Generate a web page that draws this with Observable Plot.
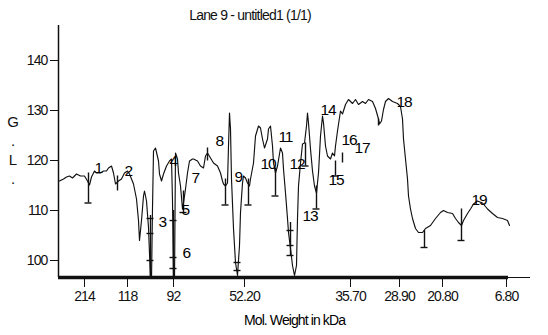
<!DOCTYPE html>
<html>
<head>
<meta charset="utf-8">
<script src="https://cdn.jsdelivr.net/npm/d3@7"></script>
<script src="https://cdn.jsdelivr.net/npm/@observablehq/plot@0.6"></script>
<style>
  body { margin: 0; background: #fff; font-family: "Liberation Sans", Arial, sans-serif; }
  #wrap { position: relative; width: 548px; height: 335px; }
  #title { height: 22px; width: 500px; text-align: center; font-size: 14px; letter-spacing: -0.8px; line-height: 16px; padding-top: 7px; box-sizing: border-box; color: #111; }
  #ylab { position: absolute; left: 7px; top: 112px; font-size: 15px; line-height: 19px; color: #111; text-align: center; width: 12px; }
  svg { display: block; }
  svg text { letter-spacing: -0.9px; }
  svg .peak text { letter-spacing: -1.2px; }
</style>
</head>
<body>
<div id="wrap">
  <div id="title">Lane 9 - untitled1 (1/1)</div>
  <div id="ylab">G<br>.<br>L<br>.</div>
  <div id="chart"></div>
</div>
<script>
// Densitometry trace: lane position and grey level
const tracePos = [1,5,8,11,14,18,22,26,29,31,33,36,38,42,45,48,50,53,55,57,60,63,66,69,71,75,78,80,81,83,85,86,88,90,91,92,93,94,95,97,100,101,103,105,108,111,113,114,115,116,117,119,120,122,124,125,127,129,131,134,135,139,142,145,147,149,152,155,159,162,164,165,167,169,170,171,172,173,175,177,179,181,182,184,185,187,189,191,192,195,197,200,202,204,206,209,210,212,214,215,217,219,222,224,225,227,229,230,232,234,236,238,239,240,242,244,246,248,249,250,252,254,256,258,260,262,264,265,267,269,272,274,276,277,279,282,284,287,290,294,297,300,304,307,310,314,317,320,321,323,325,327,330,334,339,342,344,345,347,349,350,352,354,357,360,364,367,372,377,382,385,389,394,397,400,403,405,409,412,415,419,424,429,434,439,444,449,451];
const traceVal = [115.9,116.3,116.7,116.9,116.5,117.3,116.9,116.9,115.9,115.1,116.7,117.9,117.5,117.5,117.9,117.9,118.5,118.9,117.5,115.3,115.9,116.3,117.5,117.9,117.3,115.3,112.3,108.0,104.0,108.0,112.9,113.9,111.9,106.6,101.4,96.0,96.0,110.5,121.9,122.5,119.9,117.3,115.9,117.3,118.9,119.9,120.3,111.9,96.0,96.0,121.5,120.3,117.5,114.9,110.3,111.5,114.3,117.5,119.9,120.3,120.3,119.9,118.9,118.5,120.9,121.5,120.5,119.5,118.9,117.5,115.9,115.3,114.9,115.5,122.9,129.5,126.3,116.3,106.4,99.6,97.0,103.0,109.6,115.5,116.9,116.5,115.5,114.9,116.3,119.5,124.9,126.9,126.5,124.3,122.5,124.3,126.3,126.9,122.9,119.5,117.5,118.9,122.5,121.5,118.3,113.5,108.4,105.6,102.4,99.0,97.0,99.0,108.4,114.9,119.5,123.3,123.5,126.9,129.5,127.5,122.3,117.9,114.9,113.5,117.5,124.9,128.9,127.5,122.9,120.9,120.3,121.5,120.9,122.9,125.9,129.9,129.3,131.2,132.2,131.4,132.2,131.2,131.8,131.4,132.2,131.8,130.4,128.3,127.3,127.9,130.2,131.8,132.4,131.8,131.4,130.8,128.3,124.3,120.3,116.3,112.9,110.3,108.4,106.4,105.6,105.6,106.4,107.0,108.4,109.6,110.0,109.6,109.4,108.4,107.6,107.0,108.0,109.4,110.3,111.3,111.9,111.5,110.3,109.4,108.6,108.4,108.0,107.0];

// Peak markers (vertical bars) and their caps
const markerPos    = [30,59,92,115,125,149,167,190,217,232,247,258,277,284,320,366,403];
const markerTop    = [117.5,116.9,109.0,110.0,113.9,122.5,116.3,116.3,118.5,107.6,123.5,114.9,119.9,121.5,128.3,106.0,110.3];
const markerBottom = [111.5,113.9,96.6,96.6,109.6,119.9,111.1,111.1,112.9,101.0,118.9,110.3,116.9,119.5,126.9,102.6,104.0];
const capPos = [30,92,92,92,115,115,115,125,167,179,179,190,217,232,232,232,247,258,277,366,403];
const capVal = [111.5,108.4,105.4,100.0,108.0,100.6,98.4,109.6,111.1,99.6,98.0,111.1,112.9,106.0,103.0,101.0,118.9,110.3,116.9,102.6,104.0];

// Peak numbers
const peakLabel = ["1","2","3","4","5","6","7","8","9","10","11","12","13","14","15","16","17","18","19"];
const peakPos   = [36,66,100,111,123,124,133,157,176,202,220,231,244,262,270,283,296,338,413];
const peakVal   = [118.5,117.9,107.6,119.9,110.1,101.4,116.5,123.9,116.7,119.3,124.7,119.3,108.8,130.0,116.1,124.1,122.5,131.6,112.1];

// Axis ticks (molecular weight labels at lane positions)
const xTickPos    = [26,69,115,186,292,341,384,448];
const xTickLabels = ["214","118","92","52.20","35.70","28.90","20.80","6.80"];
const yTicks = [100,110,120,130,140];
const xAxisTitle = "Mol. Weight in kDa";

const trace = tracePos.map((p, i) => ({p, v: traceVal[i]}));
const markers = markerPos.map((p, i) => ({p, t: markerTop[i], b: markerBottom[i]}));
const caps = capPos.map((p, i) => ({p, v: capVal[i]}));
const peaks = peakLabel.map((l, i) => ({l, p: peakPos[i], v: peakVal[i]}));

const font = '"Liberation Sans", Arial, sans-serif';

const chart = Plot.plot({
  width: 548,
  height: 313,
  marginTop: 3,
  marginBottom: 58,
  marginLeft: 58,
  marginRight: 18,
  style: {fontFamily: font, fontSize: "14px", color: "#111", background: "#fff"},
  x: {domain: [0, 472]},
  y: {domain: [96.6, 147]},
  marks: [
    Plot.line(trace, {x: "p", y: "v", stroke: "#111", strokeWidth: 1.15, clip: true}),
    Plot.ruleX(markers, {x: "p", y1: "t", y2: "b", stroke: "#111", strokeWidth: 1.4}),
    Plot.ruleY(caps, {y: "v", x1: d => d.p - 3.5, x2: d => d.p + 3.5, stroke: "#111", strokeWidth: 1.4}),
    Plot.text(peaks, {x: "p", y: "v", text: "l", fill: "black", fontSize: 15.5, textAnchor: "start", className: "peak"}),
    Plot.ruleX([0], {stroke: "#111", strokeWidth: 1.5}),
    Plot.ruleY([96.6], {x1: 0, x2: 450, stroke: "#111", strokeWidth: 3.5}),
    Plot.ruleY([96.6], {x1: 450, x2: 472, stroke: "#111", strokeWidth: 1}),
    Plot.axisY({ticks: yTicks, tickSize: 8, tickPadding: 3, label: null, fontSize: 14}),
    Plot.axisX({ticks: xTickPos, tickFormat: (d, i) => xTickLabels[i], tickSize: 10, tickPadding: 4, label: null, fontSize: 14}),
    Plot.text([xAxisTitle], {frameAnchor: "bottom", dy: 47, fontSize: 14, fill: "black"})
  ]
});
document.getElementById("chart").appendChild(chart);
</script>
</body>
</html>
